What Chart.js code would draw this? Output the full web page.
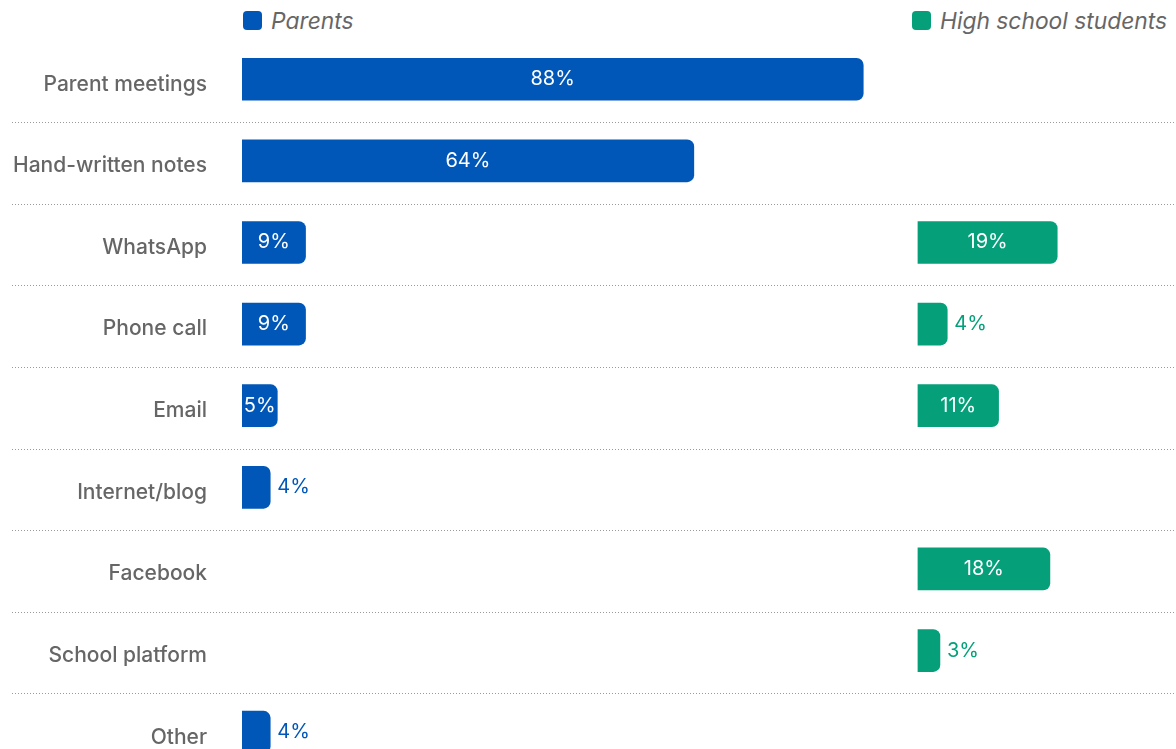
<!DOCTYPE html>
<html>
<head>
<meta charset="utf-8">
<script src="https://cdn.jsdelivr.net/npm/chart.js@4.4.1/dist/chart.umd.min.js"></script>
<style>
  html, body { margin: 0; padding: 0; background: #fff; width: 1176px; height: 749px; overflow: hidden; }
  #wrap { position: relative; width: 1176px; height: 773px; }
  .leg { position: absolute; top: 5px; height: 30px; font-family: Inter, "Liberation Sans", sans-serif; font-style: italic; font-size: 22.8px; color: #666; display: flex; align-items: center; white-space: nowrap; }
  .leg i { display: inline-block; width: 19px; height: 19px; border-radius: 4px; margin-right: 9px; }
</style>
</head>
<body>
<div id="wrap">
  <div class="leg" style="left:243px;"><i style="background:#0057B8"></i><span>Parents</span></div>
  <div class="leg" style="left:912px;"><i style="background:#05A07A"></i><span>High school students</span></div>
  <canvas id="c" width="1176" height="773" style="position:absolute;left:0;top:0;"></canvas>
</div>
<script>
const categories = ["Parent meetings", "Hand-written notes", "WhatsApp", "Phone call", "Email", "Internet/blog", "Facebook", "School platform", "Other"];
const parentsValues = [88, 64, 9, 9, 5, 4, null, null, 4];
const studentsValues = [null, null, 19, 4, 11, null, 18, 3, null];
const seriesNames = ["Parents", "High school students"];

const BLUE = "#0057B8";
const GREEN = "#05A07A";
const FONT = 'Inter, "Liberation Sans", sans-serif';

const separators = {
  id: "separators",
  beforeDatasetsDraw(chart) {
    const ctx = chart.ctx, y = chart.scales.y;
    ctx.save();
    ctx.strokeStyle = "#9a9a9a";
    ctx.lineWidth = 1;
    ctx.setLineDash([1, 2]);
    for (let i = 0; i < categories.length - 1; i++) {
      const yy = Math.round((y.getPixelForValue(i) + y.getPixelForValue(i + 1)) / 2 + 2) + 0.5;
      ctx.beginPath();
      ctx.moveTo(12, yy);
      ctx.lineTo(chart.width, yy);
      ctx.stroke();
    }
    ctx.restore();
  }
};

const valueLabels = {
  id: "valueLabels",
  afterDatasetsDraw(chart) {
    const ctx = chart.ctx;
    ctx.save();
    ctx.font = "400 20px " + FONT;
    ctx.textBaseline = "middle";
    chart.data.datasets.forEach((ds, di) => {
      const meta = chart.getDatasetMeta(di);
      meta.data.forEach((el, i) => {
        const v = ds.data[i];
        if (v === null || v === undefined) return;
        const txt = v + "%";
        if (v >= 5) {
          ctx.fillStyle = "#fff";
          ctx.textAlign = "center";
          ctx.fillText(txt, (el.x + el.base) / 2, el.y);
        } else {
          ctx.fillStyle = ds.backgroundColor;
          ctx.textAlign = "left";
          ctx.fillText(txt, el.x + 7, el.y);
        }
      });
    });
    ctx.restore();
  }
};

new Chart(document.getElementById("c"), {
  type: "bar",
  data: {
    labels: categories,
    datasets: [
      { label: seriesNames[0], data: parentsValues, backgroundColor: BLUE, xAxisID: "x",
        barThickness: 42, grouped: false, borderRadius: { topRight: 7, bottomRight: 7 }, borderSkipped: false },
      { label: seriesNames[1], data: studentsValues, backgroundColor: GREEN, xAxisID: "xs",
        barThickness: 42, grouped: false, borderRadius: { topRight: 7, bottomRight: 7 }, borderSkipped: false }
    ]
  },
  options: {
    indexAxis: "y",
    responsive: false,
    animation: false,
    layout: { padding: { top: 38.4, bottom: 0, left: 0, right: 0 } },
    plugins: { legend: { display: false }, tooltip: { enabled: false } },
    scales: {
      x: { display: false, min: 0, max: 132.3 },
      xs: { display: false, min: -92.2, max: 35.2 },
      y: {
        position: "left",
        grid: { display: false, drawTicks: false },
        border: { display: false },
        ticks: { color: "#666", padding: 35, labelOffset: 5, font: { family: FONT, size: 21, weight: "500" } },
        afterFit(s) { s.width = 242; s.paddingTop = 0; s.paddingBottom = 0; }
      }
    }
  },
  plugins: [separators, valueLabels]
});
</script>
</body>
</html>
